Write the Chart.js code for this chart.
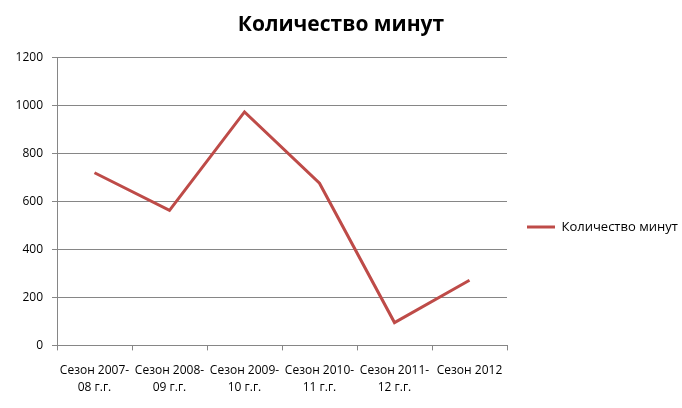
<!DOCTYPE html>
<html><head><meta charset="utf-8">
<script src="https://cdn.jsdelivr.net/npm/chart.js@4/dist/chart.umd.min.js"></script>
<style>html,body{margin:0;padding:0;background:#fff}#w{width:682px;height:408px}</style>
</head><body><div id="w"><canvas id="c"></canvas></div>
<script>
const categories = [["Сезон 2007-","08 г.г."],["Сезон 2008-","09 г.г."],["Сезон 2009-","10 г.г."],["Сезон 2010-","11 г.г."],["Сезон 2011-","12 г.г."],"Сезон 2012"];
const seriesName = "Количество минут";
const values = [719, 562, 972, 675, 95, 271];
const yTicks = [0, 200, 400, 600, 800, 1000, 1200];
const FONT = "'Open Sans', 'DejaVu Sans', sans-serif";
const legendShift = {
  id: 'legendShift',
  afterLayout(chart) { const l = chart.legend; if (l) { l.top += 23; l.bottom += 23; } }
};
new Chart(document.getElementById('c'), {
  type: 'line',
  data: { labels: categories, datasets: [{ label: seriesName, data: values, borderColor: '#be4b48', backgroundColor: '#be4b48', borderWidth: 3, pointRadius: 0, tension: 0 }] },
  options: {
    responsive: true, maintainAspectRatio: false, animation: false,
    layout: { padding: { top: 0, right: 0, bottom: 0, left: 0 } },
    plugins: {
      title: { display: true, text: seriesName, color: '#000', font: { family: FONT, size: 21, weight: 'bold' }, padding: { top: 12, bottom: 20 } },
      legend: { position: 'right', maxWidth: 175, labels: { usePointStyle: true, pointStyle: 'line', pointStyleWidth: 28, boxWidth: 28, color: '#000', font: { family: FONT, size: 13 }, padding: 20 } },
      tooltip: { enabled: false }
    },
    scales: {
      x: { offset: true, grid: { display: true, drawOnChartArea: false, color: '#868686', tickLength: 5, offset: true }, border: { color: '#868686' },
           ticks: { color: '#000', font: { family: FONT, size: 12, lineHeight: 1.4 }, maxRotation: 0, autoSkip: false, padding: 12 } },
      y: { min: 0, max: 1200, afterBuildTicks: a => { a.ticks = yTicks.map(v => ({ value: v })); },
           grid: { color: '#868686', tickLength: 5 }, border: { color: '#868686' },
           ticks: { color: '#000', font: { family: FONT, size: 12 }, padding: 9, callback: v => String(v) },
           afterFit: s => { s.width = 57; } }
    }
  },
  plugins: [legendShift]
});
</script></body></html>
